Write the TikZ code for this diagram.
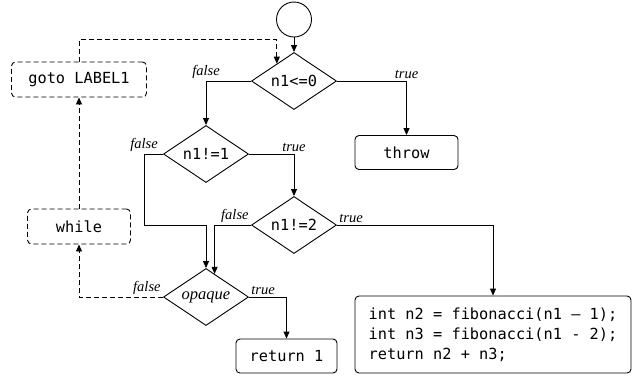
\documentclass[tikz,border=0pt]{standalone}
\usepackage{fontspec}
\setmainfont{Liberation Serif}
\setmonofont{DejaVu Sans Mono}
\usetikzlibrary{arrows.meta,positioning,shapes.geometric,calc}

\begin{document}
\begin{tikzpicture}[
  x=1pt, y=-1pt, line width=0.9pt,
  test/.style={draw, diamond, aspect=1.5, inner sep=1pt, minimum width=85pt, minimum height=57pt, font=\fontsize{15.3}{18}\selectfont\ttfamily},
  stmt/.style={draw, rounded corners=4pt, align=left, minimum height=34pt, font=\fontsize{15.3}{20}\selectfont\ttfamily},
  jump/.style={dash pattern=on 5pt off 3pt},
  lbl/.style={font=\fontsize{14.5}{16}\selectfont\itshape, inner sep=2pt},
  arrow/.style={-{Triangle[length=7pt, width=6pt]}}
]
\useasboundingbox (0,0) rectangle (636,376);

\node[draw, circle, minimum size=35pt, inner sep=0pt] (start) at (294,19.5) {};
\node[test] (n1le0) at (294,81) {n1<=0};
\node[test] (n1ne1) at (206,154) {n1!=1};
\node[test] (n1ne2) at (294,225) {n1!=2};
\node[test, font=\fontsize{16.5}{18}\selectfont\itshape] (opaque) at (206,297) {opaque};

\node[stmt, minimum width=103pt] (throw) at (406.5,152.5) {throw};
\node[stmt, minimum width=101pt] (ret) at (286.5,356) {return 1};
\node[stmt, minimum width=276pt, minimum height=77pt] (body) at (493,334.5)
  {int n2 = fibonacci(n1 – 1);\\int n3 = fibonacci(n1 - 2);\\return n2 + n3;};
\node[stmt, jump, minimum width=135pt, minimum height=35pt] (goto) at (79,79.5) {goto LABEL1};
\node[stmt, jump, minimum width=103pt, minimum height=35pt] (loop) at (79,226.5) {while};

\draw[arrow] (start) -- (n1le0);
\draw[arrow] (n1le0.west) -| node[lbl, above, pos=0.5] {false} (n1ne1.north);
\draw[arrow] (n1le0.east) -| node[lbl, above, pos=0.5] {true} (throw.north);
\draw[arrow] (n1ne1.west) -| node[lbl, above, pos=0.5] {false} ++(-19,71) -| (opaque.north);
\draw[arrow] (n1ne1.east) -| node[lbl, above, pos=0.5] {true} (n1ne2.north);
\draw[arrow] (n1ne2.west) -| node[lbl, above left, pos=0] {false} ($(opaque.north)!0.2!(opaque.east)$);
\draw[arrow] (n1ne2.east) -| node[lbl, above right, pos=0] {true} (body.north);
\draw[arrow] (opaque.east) -| node[lbl, above right, pos=0] {true} (ret.north);

% back edge through the loop
\draw[arrow, jump] (opaque.west) -| node[lbl, above left, pos=0] {false} (loop.south);
\draw[arrow, jump] (loop.north) -- (goto.south);
\draw[arrow, jump] (goto.north) -- ++(0,-22) -| ($(n1le0.north)!0.4!(n1le0.west)$);
\end{tikzpicture}
\end{document}
